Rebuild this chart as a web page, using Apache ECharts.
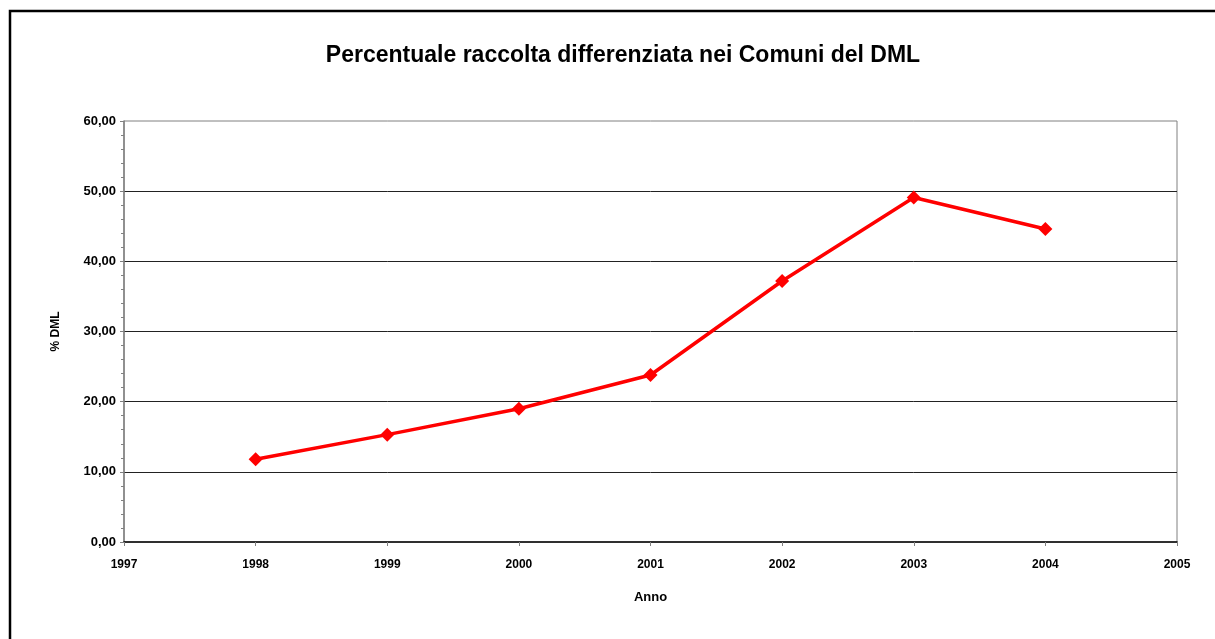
<!DOCTYPE html>
<html>
<head>
<meta charset="utf-8">
<style>
  html, body { margin: 0; padding: 0; background: #fff; }
  #chart { width: 1215px; height: 639px; }
</style>
<script src="https://cdn.jsdelivr.net/npm/echarts@6/dist/echarts.min.js"></script>
</head>
<body>
<div id="chart"></div>
<script>
// Percentuale di raccolta differenziata per anno
const years = [1998, 1999, 2000, 2001, 2002, 2003, 2004];
const percentuali = [11.8, 15.3, 19.0, 23.8, 37.2, 49.1, 44.6];

const titleText = 'Percentuale raccolta differenziata nei Comuni del DML';
const xName = 'Anno';
const yName = '% DML';

const font = '"Liberation Sans", Arial, sans-serif';
const chart = echarts.init(document.getElementById('chart'), null, { renderer: 'canvas' });

chart.setOption({
  backgroundColor: '#fff',
  animation: false,
  title: {
    text: titleText,
    left: 618,
    textAlign: 'center',
    top: 39,
    textStyle: { fontFamily: font, fontWeight: 'bold', fontSize: 23, color: '#000' }
  },
  graphic: [{
    type: 'rect',
    shape: { x: 10, y: 11, width: 1400, height: 800 },
    style: { fill: 'none', stroke: '#000', lineWidth: 2.5 },
    silent: true
  }],
  grid: {
    left: 124, right: 38, top: 121, bottom: 97,
    show: true, borderColor: '#808080', borderWidth: 1, backgroundColor: 'transparent'
  },
  xAxis: {
    type: 'value',
    min: 1997, max: 2005, interval: 1,
    name: xName,
    nameLocation: 'middle',
    nameGap: 49,
    nameTextStyle: { fontFamily: font, fontWeight: 'bold', fontSize: 13, color: '#000' },
    axisLine: { show: true, lineStyle: { color: '#000', width: 1.5 } },
    axisTick: { show: true, length: 4, lineStyle: { color: '#808080' } },
    axisLabel: {
      fontFamily: font, fontWeight: 'bold', fontSize: 12, color: '#000', margin: 17,
      formatter: v => String(v)
    },
    splitLine: { show: false }
  },
  yAxis: {
    type: 'value',
    min: 0, max: 60, interval: 10,
    name: yName,
    nameLocation: 'middle',
    nameGap: 62,
    nameRotate: 90,
    nameTextStyle: { fontFamily: font, fontWeight: 'bold', fontSize: 12, color: '#000' },
    axisLine: { show: true, lineStyle: { color: '#808080', width: 1.5 } },
    axisTick: { show: true, length: 4, lineStyle: { color: '#808080' } },
    minorTick: { show: true, splitNumber: 5, length: 3, lineStyle: { color: '#808080' } },
    axisLabel: {
      fontFamily: font, fontWeight: 'bold', fontSize: 13, color: '#000', margin: 8,
      formatter: v => v.toFixed(2).replace('.', ',')
    },
    splitLine: { show: true, showMinLine: false, showMaxLine: false, lineStyle: { color: '#222', width: 1 } }
  },
  series: [{
    type: 'line',
    data: years.map((y, i) => [y, percentuali[i]]),
    symbol: 'diamond',
    symbolSize: 14,
    itemStyle: { color: '#ff0000' },
    lineStyle: { color: '#ff0000', width: 3.5 },
    z: 5
  }]
});
</script>
</body>
</html>
